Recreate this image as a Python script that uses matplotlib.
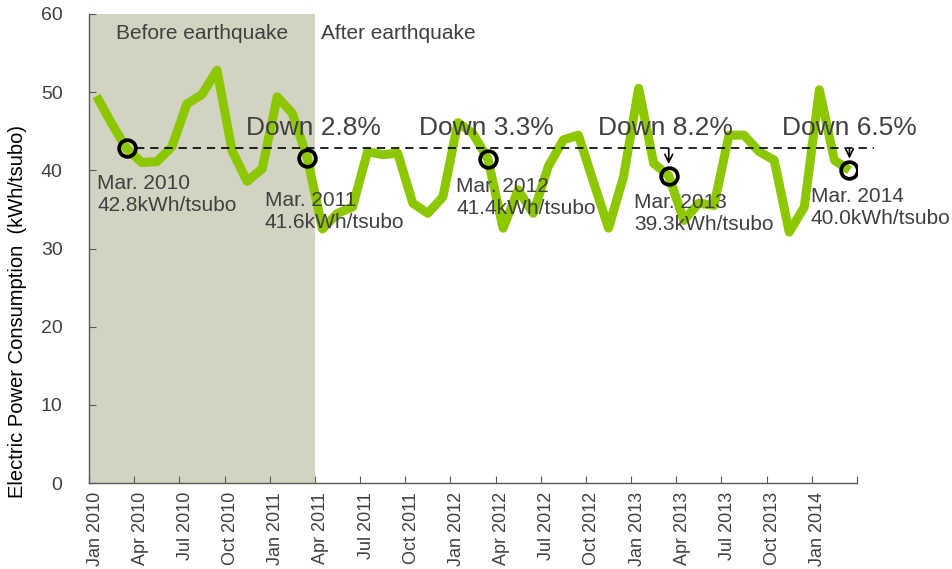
import matplotlib
matplotlib.use("Agg")
import matplotlib.pyplot as plt
import matplotlib.transforms as mtransforms

# ---- data ----
months = ["Jan 2010", "Feb 2010", "Mar 2010", "Apr 2010", "May 2010", "Jun 2010",
          "Jul 2010", "Aug 2010", "Sep 2010", "Oct 2010", "Nov 2010", "Dec 2010",
          "Jan 2011", "Feb 2011", "Mar 2011", "Apr 2011", "May 2011", "Jun 2011",
          "Jul 2011", "Aug 2011", "Sep 2011", "Oct 2011", "Nov 2011", "Dec 2011",
          "Jan 2012", "Feb 2012", "Mar 2012", "Apr 2012", "May 2012", "Jun 2012",
          "Jul 2012", "Aug 2012", "Sep 2012", "Oct 2012", "Nov 2012", "Dec 2012",
          "Jan 2013", "Feb 2013", "Mar 2013", "Apr 2013", "May 2013", "Jun 2013",
          "Jul 2013", "Aug 2013", "Sep 2013", "Oct 2013", "Nov 2013", "Dec 2013",
          "Jan 2014", "Feb 2014", "Mar 2014"]
consumption = [49.5, 46.0, 42.8, 41.0, 41.1, 43.0, 48.5, 49.7, 52.8, 42.5, 38.6, 40.2,
               49.4, 47.3, 41.6, 32.5, 34.5, 35.3, 42.4, 42.0, 42.2, 35.8, 34.5, 36.6,
               46.1, 44.7, 41.4, 32.6, 37.5, 34.5, 40.5, 43.9, 44.5, 38.5, 32.6, 39.2,
               50.5, 40.9, 39.3, 33.6, 35.8, 35.5, 44.5, 44.5, 42.4, 41.3, 32.1, 35.3,
               50.3, 41.3, 40.0]
tick_labels = ["Jan 2010", "Apr 2010", "Jul 2010", "Oct 2010", "Jan 2011", "Apr 2011",
               "Jul 2011", "Oct 2011", "Jan 2012", "Apr 2012", "Jul 2012", "Oct 2012",
               "Jan 2013", "Apr 2013", "Jul 2013", "Oct 2013", "Jan 2014"]
march_labels = ["Mar. 2010", "Mar. 2011", "Mar. 2012", "Mar. 2013", "Mar. 2014"]
march_values = [42.8, 41.6, 41.4, 39.3, 40.0]
down_labels = ["Down 2.8%", "Down 3.3%", "Down 8.2%", "Down 6.5%"]
baseline = 42.8
period_labels = ["Before earthquake", "After earthquake"]

# ---- style ----
plt.rcParams['font.family'] = ['Liberation Sans', 'DejaVu Sans']
W, H = 952, 569
TXT = '#404040'
GREEN = '#8DC700'
SHADE = '#d3d3c1'
AX = '#595959'

fig = plt.figure(figsize=(W / 100, H / 100), dpi=100)
ax = fig.add_axes([89 / W, 1 - 483 / H, (857 - 89) / W, (483 - 14) / H])

x = list(range(len(months)))
ax.set_xlim(-0.5, len(months) - 0.5)
ax.set_ylim(0, 60)

# before-earthquake shading (Jan 2010 .. Mar 2011)
quake_idx = months.index("Mar 2011")
ax.axvspan(-0.5, quake_idx + 0.5, color=SHADE, zorder=0, lw=0)

ax.plot(x, consumption, color=GREEN, lw=6.5, solid_joinstyle='round',
        solid_capstyle='butt', zorder=2)

# baseline dashed line
m_idx = [months.index(m.replace(". ", " ")) for m in march_labels]
ax.plot([m_idx[0] + 0.6, len(months) + 0.65], [baseline, baseline], ls=(0, (5, 3.5)),
        color='black', lw=1.2, zorder=3, clip_on=False)

ax.plot(m_idx, march_values, 'o', ms=12, mfc='none', mec='black', mew=2.7, zorder=4)

# March annotations (offsets in pixels)
offs = [(-29.6, -46), (-42.4, -53.7), (-32, -38), (-35, -38), (-38.5, -37)]
for mi, lab, v, (dx, dy) in zip(m_idx, march_labels, march_values, offs):
    ax.annotate(f"{lab}\n{v:.1f}kWh/tsubo", xy=(mi, v), xytext=(dx, dy),
                textcoords='offset pixels', ha='left', va='center', fontsize=15,
                color=TXT, linespacing=1.18, zorder=5)

down_dx = [6, -2, -3, 0]
for mi, lab, dx in zip(m_idx[1:], down_labels, down_dx):
    ax.annotate(lab, xy=(mi, baseline), xytext=(dx, 20), textcoords='offset pixels',
                ha='center', va='center', fontsize=19, color=TXT, zorder=5)

# arrows for 2013 and 2014
for mi, v in zip(m_idx[3:], march_values[3:]):
    ax.annotate("", xy=(mi, v), xytext=(mi, baseline),
                arrowprops=dict(arrowstyle='->', color='black', lw=1.2,
                                shrinkA=0, shrinkB=8.5, mutation_scale=14), zorder=5)

# period labels
ax.text((-0.5 + quake_idx + 0.5) / 2, 57.5, period_labels[0], ha='center', va='center',
        fontsize=15, color=TXT)
ax.annotate(period_labels[1], xy=(quake_idx + 0.5, 57.5), xytext=(6, 0),
            textcoords='offset pixels', ha='left', va='center', fontsize=15, color=TXT)

# axes styling
for s in ['top', 'right']:
    ax.spines[s].set_visible(False)
for s in ['left', 'bottom']:
    ax.spines[s].set_color(AX)
    ax.spines[s].set_linewidth(1.0)

xt = [i * 3 - 0.5 for i in range(len(tick_labels))] + [len(months) - 0.5]
ax.set_xticks(xt)
ax.set_xticklabels(tick_labels + [""], rotation=90, fontsize=13, color=TXT)
ax.tick_params(axis='x', direction='in', length=5, color=AX, pad=6.5)
offset = mtransforms.ScaledTranslation(6 / 100, 0, fig.dpi_scale_trans)
for lbl in ax.get_xticklabels():
    lbl.set_transform(lbl.get_transform() + offset)
    lbl.set_ha('center')
    lbl.set_va('top')

ax.set_yticks(range(0, 61, 10))
ax.tick_params(axis='y', direction='in', length=5, color=AX, pad=19, labelsize=14,
               labelcolor=TXT)

fig.text(18 / W, 1 - 312 / H, "Electric Power Consumption  (kWh/tsubo)", rotation=90,
         ha='center', va='center', fontsize=14.5, color='black')

fig.savefig("out.png", dpi=100)
